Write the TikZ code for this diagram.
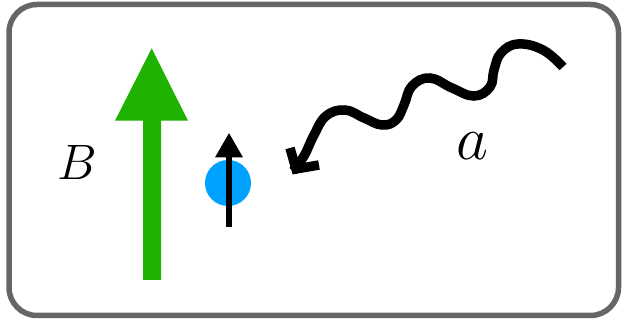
\documentclass[tikz,border=0pt]{standalone}
\usetikzlibrary{arrows.meta}
\definecolor{framegray}{HTML}{666666}
\definecolor{fieldgreen}{HTML}{1FB200}
\definecolor{spinblue}{HTML}{00A2FF}
\tikzset{
  frame/.style={draw=framegray, line width=5.5pt, rounded corners=28pt},
  fieldarrow/.style={fill=fieldgreen, draw=none},
  wave/.style={line width=9.5pt, black},
  lbl/.style={inner sep=0pt, text=black, font=\Huge},
}
\begin{document}
\begin{tikzpicture}[x=1pt, y=-1pt]
\useasboundingbox (0,0) rectangle (622,323);
\fill[white] (0,0) rectangle (622,323);
% frame
\draw[frame] (9,4.5) rectangle (618.5,315.5);
% green field arrow
\fill[fieldarrow] (143,280) -- (143,120.7) -- (115,120.7) -- (151.7,48.3) -- (188,120.7) -- (161,120.7) -- (161,280) -- cycle;
\node[lbl] (B) at (77.5,163) {\scalebox{2}{$B$}};
% particle and spin
\node[circle, fill=spinblue, minimum size=46pt, inner sep=0pt] (p) at (228,183) {};
\coordinate (sb) at (229,226.7);
\coordinate (st) at (229,132.7);
\draw[line width=6pt, -{Triangle[length=24.6pt, width=26pt]}] (sb) -- (st);
% wavy arrow
\coordinate (wend) at (293,171);
\draw[wave, line cap=butt] plot[smooth, tension=0.7] coordinates {
 (563,67) (543,50) (518,44) (501,53) (494,70) (490,87) (474,96) (452,88) (430,78) (412,86) (404,105) (396,120) (382,125) (364,118) (345,110) (326,116) (314,135) (304,156) (wend)};
\draw[wave, line join=miter, line cap=butt] (290,148) -- (296,169) -- (319,165);
\node[lbl] (a) at (472,146) {\scalebox{2.5}{$a$}};
\end{tikzpicture}
\end{document}
